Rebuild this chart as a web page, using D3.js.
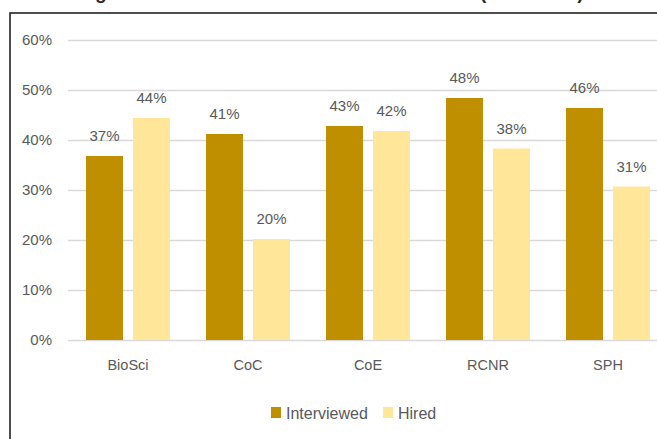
<!DOCTYPE html>
<html>
<head>
<meta charset="utf-8">
<script src="https://cdn.jsdelivr.net/npm/d3@7"></script>
<style>
  html, body { margin: 0; padding: 0; background: #fff; overflow: hidden; }
  svg { display: block; }
  text { font-family: "Liberation Sans", Arial, sans-serif; fill: #595959; }
</style>
</head>
<body>
<svg id="chart" width="657" height="439"></svg>
<script>
// Share of candidates by college
const colleges = ["BioSci", "CoC", "CoE", "RCNR", "SPH"];
const interviewed = [0.368, 0.412, 0.428, 0.484, 0.464];
const hired = [0.444, 0.202, 0.418, 0.383, 0.307];
const seriesNames = ["Interviewed", "Hired"];
const seriesColors = ["#BF8F00", "#FFE699"];
const yTicks = [0, 0.1, 0.2, 0.3, 0.4, 0.5, 0.6];
const titleText = "Average Share of Women Interviewed and Hired (2015-2018)";

const svg = d3.select("#chart");
const W = 657, H = 439;

// chart frame (extends past the visible area)
svg.append("rect")
  .attr("x", 10).attr("y", 13)
  .attr("width", W + 20).attr("height", H + 20)
  .attr("fill", "none").attr("stroke", "#222").attr("stroke-width", 1.6);

// title sits above the frame
svg.append("text")
  .attr("x", 43).attr("y", -1)
  .style("font-weight", "bold").style("font-size", "19px")
  .style("fill", "#262626")
  .text(titleText);

const plot = { left: 68, right: 668, top: 40, bottom: 340 };

const y = d3.scaleLinear().domain([0, 0.6]).range([plot.bottom, plot.top]);
const x0 = d3.scaleBand().domain(colleges).range([plot.left, plot.right]).padding(0);
const x1 = d3.scaleBand().domain(seriesNames).range([18, 102]).paddingInner(0.213).paddingOuter(0);
const color = d3.scaleOrdinal().domain(seriesNames).range(seriesColors);

// gridlines + y labels
const yAxis = d3.axisLeft(y).tickValues(yTicks).tickFormat(d3.format(".0%"))
  .tickSize(-(W - plot.left + 10)).tickPadding(16);
const gy = svg.append("g").attr("transform", `translate(${plot.left},0)`).call(yAxis);
gy.select(".domain").remove();
gy.selectAll(".tick line").attr("stroke", "#d9d9d9").attr("stroke-width", 1.3);
gy.selectAll(".tick text")
  .style("font-size", "15px").style("fill", "#595959")
  .attr("font-family", null);

// x labels
const xAxis = d3.axisBottom(x0).tickSize(0).tickPadding(20);
const gx = svg.append("g").attr("transform", `translate(0,${plot.bottom})`).call(xAxis);
gx.select(".domain").remove();
gx.selectAll(".tick text")
  .style("font-size", "14.5px").style("fill", "#595959")
  .attr("font-family", null);

// bars
const rows = colleges.map((c, i) => ({ college: c, values: [
  { key: "Interviewed", value: interviewed[i] },
  { key: "Hired", value: hired[i] }
]}));

const groups = svg.append("g").selectAll("g").data(rows).join("g")
  .attr("transform", d => `translate(${x0(d.college)},0)`);

groups.selectAll("rect").data(d => d.values).join("rect")
  .attr("x", d => x1(d.key))
  .attr("y", d => y(d.value))
  .attr("width", x1.bandwidth())
  .attr("height", d => y(0) - y(d.value))
  .attr("fill", d => color(d.key));

groups.selectAll("text.lbl").data(d => d.values).join("text")
  .attr("class", "lbl")
  .attr("x", d => x1(d.key) + x1.bandwidth() / 2)
  .attr("y", d => y(d.value) - 15)
  .attr("text-anchor", "middle")
  .style("font-size", "15px")
  .text(d => d3.format(".0%")(d.value));

// legend
const legend = svg.append("g");
const legendX = [271, 383];
seriesNames.forEach((name, i) => {
  legend.append("rect")
    .attr("x", legendX[i]).attr("y", 407)
    .attr("width", 10).attr("height", 11)
    .attr("fill", seriesColors[i]);
  legend.append("text")
    .attr("x", legendX[i] + 15).attr("y", 419)
    .style("font-size", "16px")
    .text(name);
});
</script>
</body>
</html>
